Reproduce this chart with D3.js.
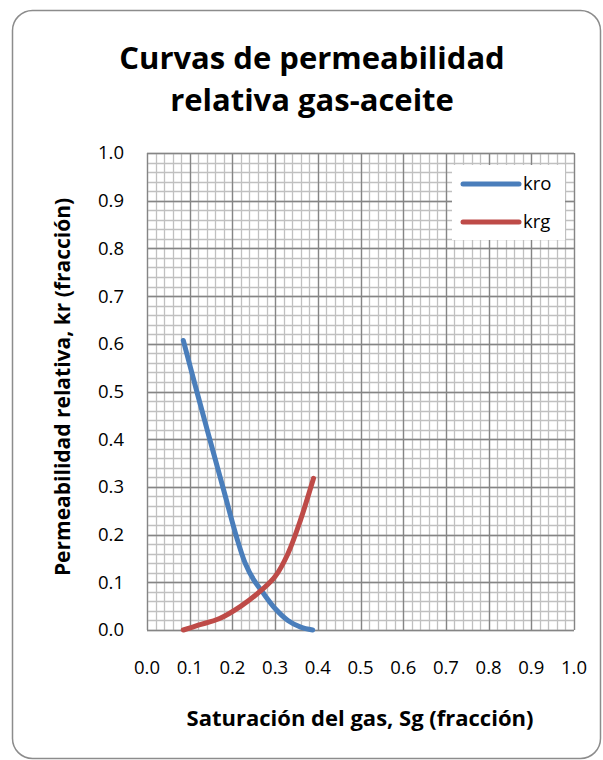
<!DOCTYPE html>
<html>
<head>
<meta charset="utf-8">
<script src="https://cdn.jsdelivr.net/npm/d3@7"></script>
<style>
  body { margin: 0; background: #fff; }
  svg { display: block; font-family: "Open Sans", sans-serif; }
  .tick-label { font-size: 18.5px; fill: #000; }
  .axis-title { font-size: 21px; font-weight: bold; fill: #000; }
</style>
</head>
<body>
<svg width="603" height="760"></svg>
<script>
// chart data
const sg = [0.085, 0.12, 0.15, 0.18, 0.21, 0.23, 0.25, 0.27, 0.30, 0.33, 0.36, 0.388];
const kro = [0.607, 0.489, 0.39, 0.292, 0.194, 0.14, 0.105, 0.08, 0.045, 0.02, 0.006, 0.0];

const sgGas = [0.085, 0.12, 0.17, 0.22, 0.27, 0.30, 0.33, 0.36, 0.39];
const krg = [0.0, 0.01, 0.024, 0.05, 0.085, 0.112, 0.16, 0.232, 0.318];

const seriesNames = ["kro", "krg"];
const seriesColors = ["#4a7ebb", "#be4b48"];

const xTicks = d3.range(0, 1.0001, 0.1);
const yTicks = d3.range(0, 1.0001, 0.1);
const minorTicks = d3.range(0, 1.0001, 0.02);

const titleLines = ["Curvas de permeabilidad", "relativa gas-aceite"];
const xTitle = "Saturación del gas, Sg (fracción)";
const yTitle = "Permeabilidad relativa, kr (fracción)";

// set global constants
const svg = d3.select("svg");

const plot = { left: 147, top: 153, right: 574, bottom: 630 };

const x = d3.scaleLinear()
  .domain([0, 1])
  .range([plot.left, plot.right]);

const y = d3.scaleLinear()
  .domain([0, 1])
  .range([plot.bottom, plot.top]);

// chart frame
svg.append("rect")
  .attr("x", 12.5)
  .attr("y", 10.5)
  .attr("width", 588)
  .attr("height", 748)
  .attr("rx", 20)
  .attr("fill", "#fff")
  .attr("stroke", "#8c8c8c")
  .attr("stroke-width", 1.5);

// title
svg.append("text")
  .attr("text-anchor", "middle")
  .attr("font-size", 31)
  .attr("font-weight", "bold")
  .selectAll("tspan")
  .data(titleLines)
  .enter()
  .append("tspan")
  .attr("x", 312)
  .attr("y", (d, i) => 69 + i * 42)
  .text(d => d);

// grid, minor first then major on top
const grid = svg.append("g");

function gridLines(cls, values, color) {
  grid.selectAll("." + cls + "-x")
    .data(values)
    .enter()
    .append("line")
    .attr("x1", d => Math.round(x(d)) + 0.5)
    .attr("x2", d => Math.round(x(d)) + 0.5)
    .attr("y1", plot.top)
    .attr("y2", plot.bottom)
    .attr("stroke", color)
    .attr("stroke-width", 1.3);

  grid.selectAll("." + cls + "-y")
    .data(values)
    .enter()
    .append("line")
    .attr("y1", d => Math.round(y(d)) + 0.5)
    .attr("y2", d => Math.round(y(d)) + 0.5)
    .attr("x1", plot.left)
    .attr("x2", plot.right)
    .attr("stroke", color)
    .attr("stroke-width", 1.3);
}

gridLines("minor", minorTicks, "#c0c0c0");
gridLines("major", xTicks, "#858585");

// tick labels
svg.selectAll(".x-label")
  .data(xTicks)
  .enter()
  .append("text")
  .attr("class", "tick-label")
  .attr("x", d => x(d))
  .attr("y", 674)
  .attr("text-anchor", "middle")
  .text(d => d.toFixed(1));

svg.selectAll(".y-label")
  .data(yTicks)
  .enter()
  .append("text")
  .attr("class", "tick-label")
  .attr("x", 124)
  .attr("y", d => y(d))
  .attr("dy", "0.35em")
  .attr("text-anchor", "end")
  .text(d => d.toFixed(1));

// axis titles
svg.append("text")
  .attr("class", "axis-title")
  .attr("x", 360)
  .attr("y", 726)
  .attr("font-size", 22)
  .style("font-size", "22px")
  .attr("text-anchor", "middle")
  .text(xTitle);

svg.append("text")
  .attr("class", "axis-title")
  .attr("transform", "translate(70, 387) rotate(-90)")
  .attr("text-anchor", "middle")
  .text(yTitle);

// series lines
const line = d3.line()
  .x(d => x(d[0]))
  .y(d => y(d[1]))
  .curve(d3.curveCatmullRom.alpha(0.5));

const series = [
  d3.zip(sg, kro),
  d3.zip(sgGas, krg)
];

svg.selectAll(".series")
  .data(series)
  .enter()
  .append("path")
  .attr("d", line)
  .attr("fill", "none")
  .attr("stroke", (d, i) => seriesColors[i])
  .attr("stroke-width", 5)
  .attr("stroke-linecap", "round")
  .attr("stroke-linejoin", "round");

// legend
const legend = svg.append("g");

legend.append("rect")
  .attr("x", 452)
  .attr("y", 165)
  .attr("width", 113)
  .attr("height", 75)
  .attr("fill", "#fff");

const item = legend.selectAll(".item")
  .data(seriesNames)
  .enter()
  .append("g")
  .attr("transform", (d, i) => "translate(463, " + (184 + i * 38) + ")");

item.append("line")
  .attr("x1", 0)
  .attr("x2", 56)
  .attr("stroke", (d, i) => seriesColors[i])
  .attr("stroke-width", 5)
  .attr("stroke-linecap", "round");

item.append("text")
  .attr("class", "tick-label")
  .attr("x", 60)
  .attr("dy", "0.35em")
  .text(d => d);
</script>
</body>
</html>
